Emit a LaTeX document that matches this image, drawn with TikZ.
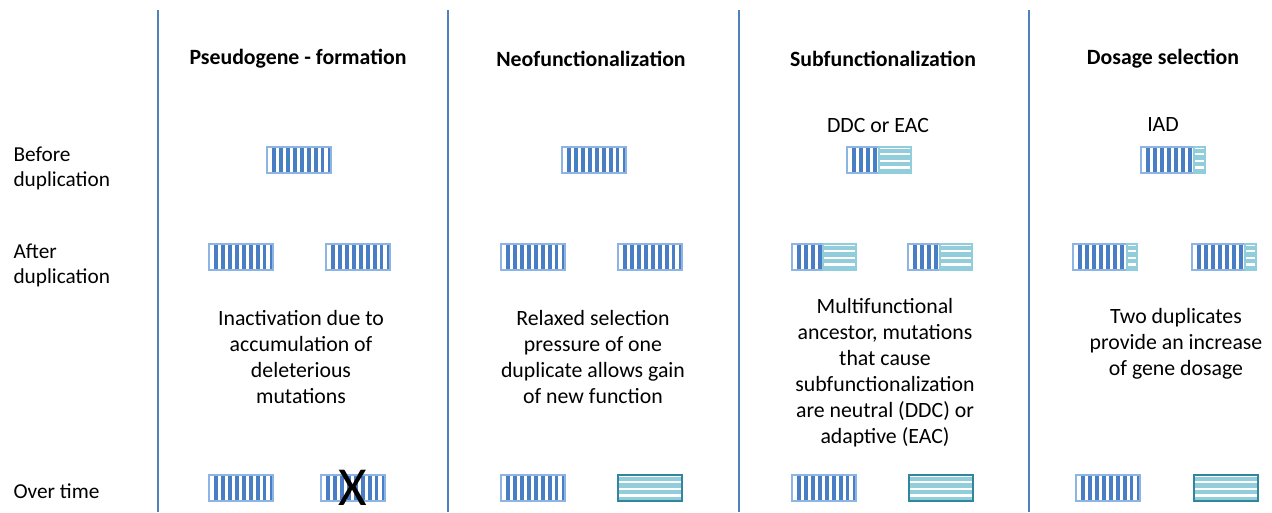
\documentclass[tikz,border=0pt]{standalone}
\usepackage{fontspec}
\setmainfont{Carlito}
\definecolor{sepline}{HTML}{4F81BD}
\definecolor{vbarc}{HTML}{4A7EC4}
\definecolor{vframec}{HTML}{8DB4E2}
\definecolor{hbarc}{HTML}{92CDDC}
\definecolor{hframelt}{HTML}{92CDDC}
\definecolor{hframedk}{HTML}{31859C}
\tikzset{
  x=1pt, y=-1pt,
  sep/.style={draw=sepline, line width=1.4pt},
  genecell/.style={inner sep=0pt, minimum width=64pt, minimum height=26pt},
  vbar/.style={fill=vbarc},
  vframe/.style={draw=vframec, line width=1.3pt},
  hbar/.style={fill=hbarc},
  hframe/.style={draw=hframelt, line width=1.3pt},
  hframedark/.style={draw=hframedk, line width=1.3pt},
  title/.style={font=\fontsize{21.8}{26}\selectfont\bfseries, anchor=center},
  rowlabel/.style={font=\fontsize{21.3}{25}\selectfont, anchor=west, align=left},
  para/.style={font=\fontsize{21.8}{26}\selectfont, align=center, anchor=center},
  sub/.style={font=\fontsize{21.8}{26}\selectfont, anchor=center},
}
% \gene{name}{left}{top}{width of the vertical-striped part}{frame style of the horizontal part}
\newcommand\gene[5]{%
  \node[genecell] (#1) at ({#2+32},{#3+13}) {};
  \ifdim #4pt>0pt
    \begin{scope}
      \clip (#2,#3) rectangle ({#2+#4},{#3+26});
      \foreach \k in {0,...,8}
        \fill[vbar] ({#2+5.3+\k*6.9},#3) rectangle ++(3.8,26);
    \end{scope}
    \draw[vframe] (#2,#3) rectangle ({#2+#4},{#3+26});
  \fi
  \ifdim #4pt<64pt
    \begin{scope}
      \clip ({#2+#4},#3) rectangle ({#2+64},{#3+26});
      \foreach \k in {0,...,3}
        \fill[hbar] (#2,{#3+1.8+\k*6.6}) rectangle ++(64,4.2);
    \end{scope}
    \draw[#5] ({#2+#4},#3) rectangle ({#2+64},{#3+26});
  \fi
}
\begin{document}
\begin{tikzpicture}
\useasboundingbox (0,0) rectangle (1272,512);

% column separators
\foreach \xs in {158,448,739,1029}
  \draw[sep] (\xs,10) -- (\xs,512);

% column titles
\node[title] (t1) at (298,58.5) {Pseudogene - formation};
\node[title] (t2) at (591,58.5) {Neofunctionalization};
\node[title] (t3) at (883,58.5) {Subfunctionalization};
\node[title] (t4) at (1163,58.5) {Dosage selection};

% row labels
\node[rowlabel] (r1) at (10,168) {Before\\duplication};
\node[rowlabel] (r2) at (10,265) {After\\duplication};
\node[rowlabel] (r3) at (10,491) {Over time};

% ancestral models
\node[sub] (s3) at (878,125) {DDC or EAC};
\node[sub] (s4) at (1163,125) {IAD};

% before duplication
\gene{pb}{267}{147}{64}{hframe}
\gene{nb}{562}{147}{64}{hframe}
\gene{sb}{847}{147}{32}{hframe}
\gene{db}{1141}{147}{53}{hframe}

% after duplication
\gene{pa1}{209}{244}{64}{hframe}
\gene{pa2}{326}{244}{64}{hframe}
\gene{na1}{501}{244}{64}{hframe}
\gene{na2}{618}{244}{64}{hframe}
\gene{sa1}{792}{244}{31}{hframe}
\gene{sa2}{908}{244}{32}{hframe}
\gene{da1}{1073}{244}{54}{hframe}
\gene{da2}{1192}{244}{53}{hframe}

% explanations
\node[para] (e1) at (301,357) {Inactivation due to\\accumulation of\\deleterious\\mutations};
\node[para] (e2) at (593,357) {Relaxed selection\\pressure of one\\duplicate allows gain\\of new function};
\node[para] (e3) at (885,373) {Multifunctional\\ancestor, mutations\\that cause\\subfunctionalization\\are neutral (DDC) or\\adaptive (EAC)};
\node[para] (e4) at (1176,344) {Two duplicates\\provide an increase\\of gene dosage};

% over time
\gene{po1}{209}{475}{64}{hframe}
\gene{po2}{321}{475}{64}{hframe}
\gene{no1}{501}{475}{64}{hframe}
\gene{no2}{618}{475}{0}{hframedark}
\gene{so1}{792}{475}{64}{hframe}
\gene{so2}{909}{475}{0}{hframedark}
\gene{do1}{1076}{475}{64}{hframe}
\gene{do2}{1194}{475}{0}{hframedark}

% inactivated copy
\node[font=\fontsize{55}{55}\selectfont, inner sep=0pt] (x) at (353,488) {X};
\end{tikzpicture}
\end{document}
